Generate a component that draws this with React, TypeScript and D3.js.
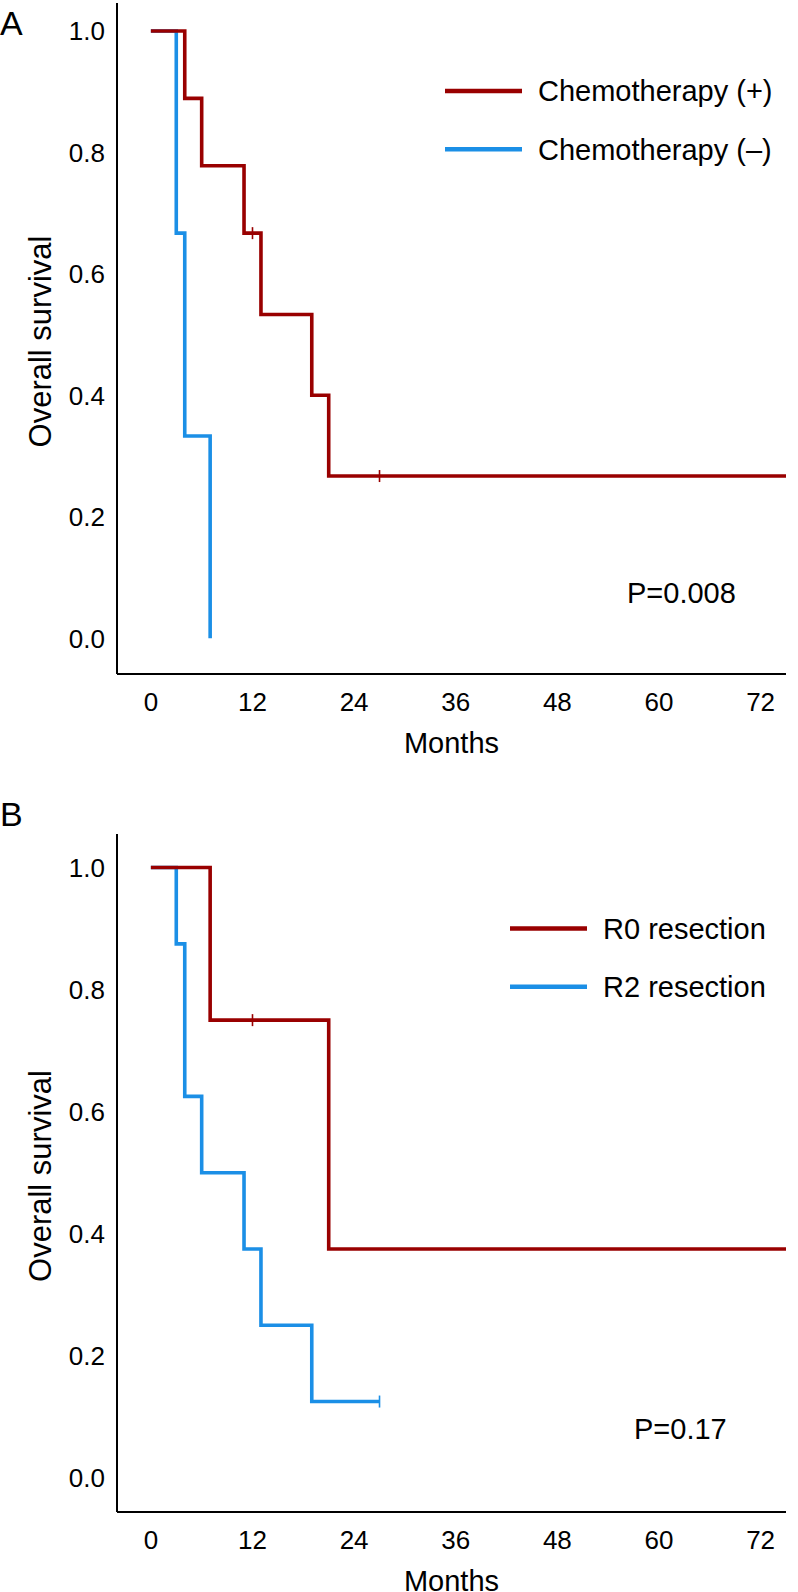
import React from 'react';
import * as d3 from 'd3';

// ---- data ----
const monthTicks = [0, 12, 24, 36, 48, 60, 72];
const survivalTicks = [0, 0.2, 0.4, 0.6, 0.8, 1.0];

// Panel A
const chemoPlusTimes = [0, 4, 6, 11, 13, 19, 21];
const chemoPlusSurv = [1, 0.889, 0.778, 0.667, 0.533, 0.4, 0.267];
const chemoPlusCensor = [12, 27];
const chemoPlusEnd = 75;

const chemoMinusTimes = [0, 3, 4, 7];
const chemoMinusSurv = [1, 0.667, 0.333, 0];
const chemoMinusCensor: number[] = [];
const chemoMinusEnd = 7;

// Panel B
const r0Times = [0, 7, 21];
const r0Surv = [1, 0.75, 0.375];
const r0Censor = [12];
const r0End = 75;

const r2Times = [0, 3, 4, 6, 11, 13, 19];
const r2Surv = [1, 0.875, 0.625, 0.5, 0.375, 0.25, 0.125];
const r2Censor = [27];
const r2End = 27;

const RED = '#990000';
const BLUE = '#1b8fe6';
const FONT = '"Liberation Sans", Arial, Helvetica, sans-serif';

interface Curve {
  times: number[];
  surv: number[];
  censor: number[];
  end: number;
  color: string;
  label: string;
}

interface PanelProps {
  letter: string;
  letterY: number;
  top: number;
  bottom: number;
  yDomain: [number, number];
  curves: Curve[];
  legendY: number;
  legendX: number;
  pText: string;
  pX: number;
  pY: number;
}

const left = 117;
const right = 786;

const survAt = (c: Curve, t: number) => {
  let s = c.surv[0];
  c.times.forEach((tt, i) => { if (tt <= t) s = c.surv[i]; });
  return s;
};

const Panel: React.FC<PanelProps> = (p) => {
  const x = d3.scaleLinear().domain([-4, 75]).range([left, right]);
  const y = d3.scaleLinear().domain(p.yDomain).range([p.bottom, p.top]);
  const line = d3.line<[number, number]>()
    .x(d => x(d[0]))
    .y(d => y(d[1]))
    .curve(d3.curveStepAfter);

  return (
    <g>
      <text x={0} y={p.letterY} fontSize={34} fontFamily={FONT}>{p.letter}</text>

      {/* axes */}
      <line x1={left} x2={left} y1={p.top} y2={p.bottom} stroke="#000" strokeWidth={2} />
      <line x1={left} x2={right} y1={p.bottom} y2={p.bottom} stroke="#000" strokeWidth={2} />

      {survivalTicks.map(t => (
        <text key={t} x={105} y={y(t)} dy="0.36em" textAnchor="end" fontSize={26} fontFamily={FONT}>
          {t.toFixed(1)}
        </text>
      ))}
      {monthTicks.map(t => (
        <text key={t} x={x(t)} y={p.bottom + 28} dy="0.36em" textAnchor="middle" fontSize={26} fontFamily={FONT}>
          {t}
        </text>
      ))}
      <text x={(left + right) / 2} y={p.bottom + 69} dy="0.36em" textAnchor="middle" fontSize={29} fontFamily={FONT}>
        Months
      </text>
      <text
        transform={`translate(40,${(p.top + p.bottom) / 2 + 3}) rotate(-90)`}
        dy="0.36em"
        textAnchor="middle"
        fontSize={31}
        fontFamily={FONT}
      >
        Overall survival
      </text>

      {/* curves: second series first so the first sits on top */}
      {[...p.curves].reverse().map(c => {
        const pts: [number, number][] = c.times.map((t, i) => [t, c.surv[i]]);
        pts.push([c.end, c.surv[c.surv.length - 1]]);
        return (
          <g key={c.label}>
            <path d={line(pts) || ''} fill="none" stroke={c.color} strokeWidth={3.6} strokeLinecap="butt" />
            {c.censor.map(t => (
              <line key={t} x1={x(t)} x2={x(t)} y1={y(survAt(c, t)) - 6} y2={y(survAt(c, t)) + 6}
                stroke={c.color} strokeWidth={1.6} />
            ))}
          </g>
        );
      })}

      {/* legend */}
      {p.curves.map((c, i) => {
        const ly = p.legendY + i * 58.3;
        return (
          <g key={c.label}>
            <line x1={p.legendX} x2={p.legendX + 77} y1={ly} y2={ly} stroke={c.color} strokeWidth={4.5} />
            <text x={p.legendX + 93} y={ly} dy="0.36em" fontSize={29} fontFamily={FONT}>{c.label}</text>
          </g>
        );
      })}

      <text x={p.pX} y={p.pY} dy="0.36em" fontSize={29} fontFamily={FONT}>{p.pText}</text>
    </g>
  );
};

const App: React.FC = () => {
  const curvesA: Curve[] = [
    { times: chemoPlusTimes, surv: chemoPlusSurv, censor: chemoPlusCensor, end: chemoPlusEnd, color: RED, label: 'Chemotherapy (+)' },
    { times: chemoMinusTimes, surv: chemoMinusSurv, censor: chemoMinusCensor, end: chemoMinusEnd, color: BLUE, label: 'Chemotherapy (\u2013)' },
  ];
  const curvesB: Curve[] = [
    { times: r0Times, surv: r0Surv, censor: r0Censor, end: r0End, color: RED, label: 'R0 resection' },
    { times: r2Times, surv: r2Surv, censor: r2Censor, end: r2End, color: BLUE, label: 'R2 resection' },
  ];

  return (
    <div style={{ position: 'absolute', left: 0, top: 0 }}>
      <svg width={798} height={1592} style={{ display: 'block', background: '#fff' }}>
        <Panel
          letter="A" letterY={35} top={3} bottom={674} yDomain={[-0.059, 1.046]}
          curves={curvesA} legendX={445} legendY={91}
          pText="P=0.008" pX={627} pY={593}
        />
        <Panel
          letter="B" letterY={826} top={834} bottom={1512} yDomain={[-0.056, 1.055]}
          curves={curvesB} legendX={510} legendY={928.5}
          pText="P=0.17" pX={634} pY={1429}
        />
      </svg>
    </div>
  );
};

export default App;
